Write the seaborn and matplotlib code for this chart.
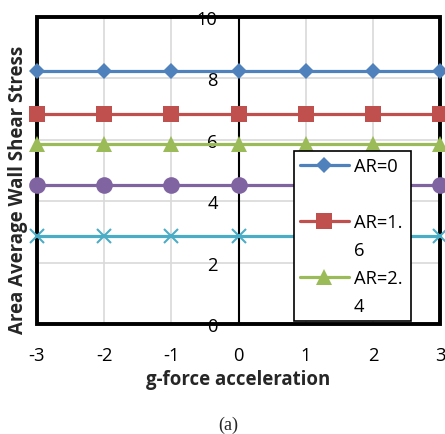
import matplotlib
matplotlib.use("Agg")
import matplotlib.pyplot as plt
import seaborn as sns
import pandas as pd
from matplotlib.patches import Rectangle
from matplotlib.lines import Line2D

g_force = [-3, -2, -1, 0, 1, 2, 3]
ar0 = [8.25, 8.25, 8.25, 8.25, 8.25, 8.25, 8.25]
ar16 = [6.85, 6.85, 6.85, 6.85, 6.85, 6.85, 6.85]
ar24 = [5.86, 5.86, 5.86, 5.86, 5.86, 5.86, 5.86]
ar_d = [4.53, 4.53, 4.53, 4.53, 4.53, 4.53, 4.53]
ar_e = [2.87, 2.87, 2.87, 2.87, 2.87, 2.87, 2.87]
series_names = ["AR=0", "AR=1.6", "AR=2.4", "AR=3.2", "AR=4"]
legend_lines = [["AR=0", " "], ["AR=1.", "6"], ["AR=2.", "4"]]
y_ticks = [0, 2, 4, 6, 8, 10]

colors = ["#4F81BD", "#C0504D", "#9BBB59", "#8064A2", "#4BACC6"]
markers = ["D", "s", "^", "o", "x"]
msizes = [8.5, 11, 11, 12, 10]

sns.set_style("white")
plt.rcParams["font.family"] = ["Open Sans", "DejaVu Sans"]
plt.rcParams["axes.unicode_minus"] = False

fig = plt.figure(figsize=(4.45, 4.35), dpi=100)
ax = fig.add_axes([0.083, 0.253, 0.906, 0.706])

for vals, name, c, m, ms in zip([ar0, ar16, ar24, ar_d, ar_e], series_names, colors, markers, msizes):
    df = pd.DataFrame({"g": g_force, "v": vals})
    sns.lineplot(data=df, x="g", y="v", ax=ax, color=c, marker=m, markersize=ms,
                 linewidth=2.3, markeredgecolor=c, markeredgewidth=1.5 if m == "x" else 0,
                 label=name, clip_on=False, zorder=3)

ax.set_xlim(-3, 3)
ax.set_ylim(0, 10)
ax.set_xticks(g_force)
ax.set_yticks(y_ticks)
ax.grid(True, color="#D9D9D9", linewidth=1.2)
ax.set_axisbelow(True)

for s in ["top", "right", "bottom"]:
    ax.spines[s].set_visible(False)
ax.spines["left"].set_position(("data", 0))
ax.spines["left"].set_linewidth(1.5)
ax.spines["left"].set_color("black")
ax.spines["left"].set_zorder(2)
ax.add_patch(Rectangle((0, 0), 1, 1, transform=ax.transAxes, fill=False,
                       edgecolor="black", linewidth=2.8, clip_on=False, zorder=2))

ax.tick_params(axis="both", length=0, labelsize=13.2, colors="black")
ax.tick_params(axis="x", pad=16)
ax.tick_params(axis="y", pad=15)
for t in ax.get_yticklabels():
    t.set_zorder(4)

ax.set_xlabel("g-force acceleration", fontsize=13.4, fontweight="bold", va="center")
ax.xaxis.set_label_coords(0.5, -0.18)
ax.set_ylabel("Area Average Wall Shear Stress", fontsize=13.4, fontweight="bold", va="center")
ax.yaxis.set_label_coords(-0.047, 0.44)

h, l = ax.get_legend_handles_labels()
blank = Line2D([], [], linestyle="none", marker=None)
leg_handles, leg_labels = [], []
for hd, (first, second) in zip(h[:3], legend_lines):
    leg_handles += [hd, blank]
    leg_labels += [first, second]
leg = ax.legend(leg_handles, leg_labels, loc="lower left",
                bbox_to_anchor=(0.638, 0.01, 0.29, 0.553), mode="expand",
                frameon=True, fancybox=False, framealpha=1, fontsize=13.2, handlelength=2.7,
                borderaxespad=0, labelspacing=0.55, handletextpad=0.25, borderpad=0.3,
                labelcolor="black")
leg.get_frame().set_edgecolor("black")
leg.get_frame().set_linewidth(1.2)
leg.set_zorder(5)

fig.text(0.512, 0.023, "(a)", fontsize=13, family="Liberation Serif", ha="center", va="center")

fig.savefig("out.png", dpi=100)
